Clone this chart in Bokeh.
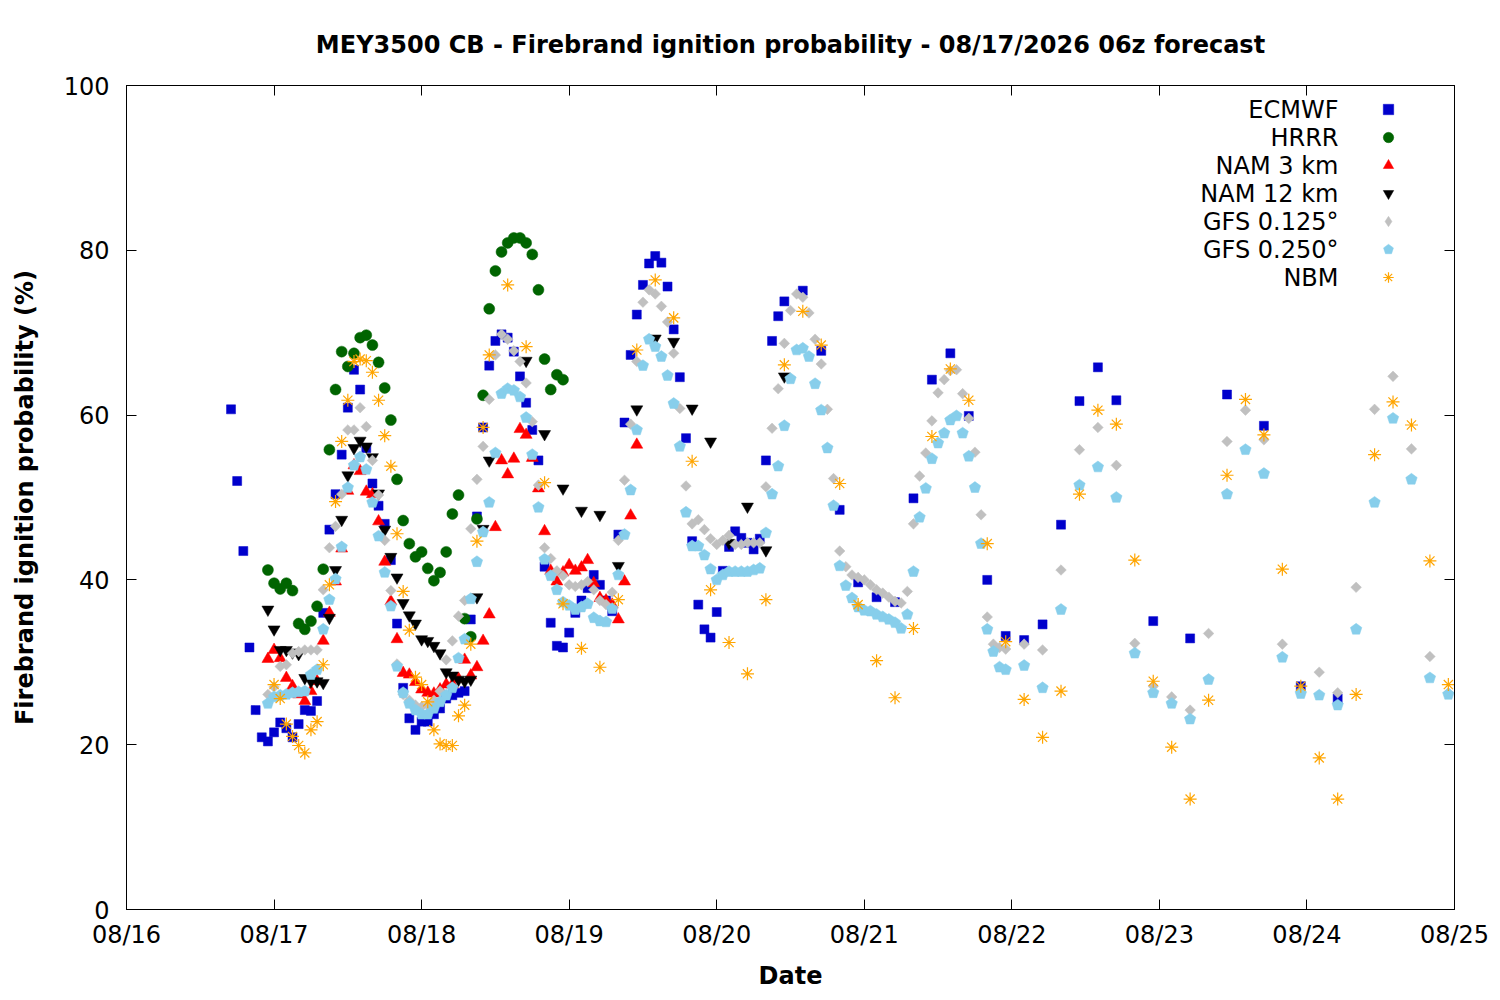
import numpy as np
import pandas as pd
from bokeh.plotting import figure
from bokeh.models import (Range1d, DatetimeTickFormatter, DaysTicker, LinearAxis, DatetimeAxis,
                          FixedTicker, Legend, LegendItem, Label, ColumnDataSource)
from bokeh.core.properties import value
from bokeh.embed import file_html
from bokeh.resources import INLINE

BASE = pd.Timestamp("2026-08-16 00:00")

# ---------------- data (hours after 08/16 00, probability %) ----------------
ecmwf_hours = list(range(17, 108)) + list(range(110, 162, 3)) + list(range(167, 198, 6))
ecmwf_vals = [60.7, 52.0, 43.5, 31.8, 24.2, 20.9, 20.4, 21.5, 22.7, 22.0,
              20.9, 22.5, 24.2, 24.1, 25.3, 36.0, 46.1, 50.4, 55.2, 60.9,
              65.5, 63.1, 56.0, 51.7, 49.0, 46.8, 42.4, 34.7, 26.9, 23.2,
              21.8, 22.8, 22.8, 23.7, 24.4, 25.6, 26.0, 26.3, 26.5, 35.2,
              47.7, 58.5, 66.0, 69.0, 69.8, 69.4, 67.7, 64.7, 61.5, 58.2,
              54.5, 41.6, 34.8, 32.0, 31.8, 33.6, 36.0, 37.5, 39.0, 40.6,
              39.4, 37.5, 36.2, 45.5, 59.1, 67.3, 72.2, 75.8, 78.4, 79.3,
              78.5, 75.6, 70.4, 64.6, 57.2, 44.7, 37.0, 34.0, 33.0, 36.1,
              41.1, 44.0, 45.9, 45.1, 44.5, 43.7, 45.0, 54.5, 69.0, 72.0,
              73.8,
              75.1, 67.8, 48.5, 39.7, 37.9, 37.3, 49.9, 64.3, 67.5, 59.9,
              40.0, 33.2, 32.7, 34.6, 46.7, 61.7, 65.8, 61.8,
              35.0, 32.9, 62.5, 58.7, 27.1, 25.6]

hrrr_hours = list(range(23, 72))
hrrr_vals = [41.2, 39.6, 38.9, 39.6, 38.7, 34.7, 34.0, 35.0, 36.8, 41.3,
             55.8, 63.1, 67.7, 65.9, 67.5, 69.4, 69.7, 68.5, 66.4, 63.3,
             59.4, 52.2, 47.2, 44.4, 42.8, 43.4, 41.4, 39.9, 40.9, 43.4,
             48.0, 50.3, 35.3, 33.1, 47.4, 62.4, 72.9, 77.5, 79.8, 80.9,
             81.5, 81.5, 80.9, 79.5, 75.2, 66.8, 63.1, 64.9, 64.3]

nam3_hours = list(range(23, 84))
nam3_vals = [30.4, 31.5, 30.5, 28.1, 27.1, 26.1, 25.3, 26.5, 27.7, 32.6,
             36.0, 39.8, 43.8, 50.8, 53.9, 53.2, 50.7, 50.4, 47.1, 42.2,
             37.4, 32.8, 28.7, 28.5, 27.6, 26.7, 26.3, 26.2, 26.7, 27.3,
             27.3, 28.0, 30.3, 28.4, 29.4, 32.6, 35.8, 46.4, 54.5, 52.8,
             54.7, 58.3, 57.6, 54.8, 51.1, 45.9, 41.1, 39.8, 40.9, 41.8,
             41.1, 41.5, 42.4, 39.6, 37.8, 37.5, 37.0, 35.2, 39.8, 47.8,
             56.4]

nam12_hours = list(range(23, 60)) + list(range(65, 108, 3))
nam12_vals = [36.4, 34.0, 31.5, 31.5, 31.2, 31.0, 28.1, 27.7, 27.7, 27.5,
              35.4, 41.2, 47.3, 52.7, 56.0, 56.9, 56.2, 54.9, 50.5, 46.1,
              42.8, 40.3, 37.2, 35.7, 34.7, 32.8, 32.6, 32.0, 31.1, 28.8,
              28.4, 27.9, 27.7, 27.9, 37.9, 46.2, 54.5,
              66.6, 57.7, 51.1, 48.4, 47.9, 41.7, 60.7, 69.3, 68.9,
              60.8, 56.8, 44.5, 48.9, 43.6, 64.7]

gfs_hours = list(range(23, 144)) + list(range(146, 216, 3))
gfs125_vals = [26.1, 27.0, 29.5, 29.7, 31.1, 31.3, 31.5, 31.5, 31.5, 38.8,
               43.9, 46.5, 50.4, 58.2, 58.2, 60.9, 58.6, 54.5, 50.3, 44.8,
               38.7, 29.8, 26.1, 25.4, 24.8, 24.6, 24.8, 25.4, 26.5, 30.3,
               32.6, 35.6, 37.5, 46.2, 52.2, 56.2, 61.9, 67.3, 69.8, 69.2,
               67.8, 66.5, 63.9, 59.2, 51.5, 43.9, 42.6, 41.1, 40.5, 39.4,
               39.2, 39.4, 39.8, 38.8, 37.5, 37.0, 38.5, 44.8, 52.1, 58.9,
               66.5, 73.7, 75.2, 74.7, 73.2, 71.3, 67.5, 60.8, 51.4, 46.8,
               47.3, 46.1, 45.0, 44.3, 44.8, 45.4, 44.3, 44.3, 44.5, 44.5,
               44.5, 51.3, 58.4, 63.2, 68.7, 72.7, 74.7, 74.3, 72.4, 69.2,
               66.2, 60.7, 52.3, 43.5, 41.6, 40.6, 40.3, 40.0, 39.4, 38.8,
               38.4, 37.9, 37.4, 37.2, 38.6, 46.8, 52.6, 55.4, 59.3, 62.7,
               64.3, 65.4, 65.5, 62.6, 59.6, 55.5, 47.9, 35.5, 32.2, 31.8,
               31.6,
               32.2, 31.5, 41.2, 55.8, 58.5, 53.9, 32.3, 27.1, 25.8, 24.2,
               33.5, 56.8, 60.6, 57.0, 32.2, 26.5, 28.8, 26.3, 39.1, 60.7,
               64.7, 55.9, 30.7, 26.3]

gfs250_vals = [25.0, 25.8, 26.0, 26.1, 26.3, 26.4, 26.5, 28.5, 29.1, 34.0,
               37.6, 40.1, 44.0, 51.2, 53.9, 54.9, 53.4, 49.4, 45.3, 40.9,
               36.8, 29.5, 26.3, 25.0, 24.2, 23.7, 23.7, 24.4, 25.2, 26.0,
               26.9, 30.5, 32.8, 37.7, 42.2, 45.8, 49.4, 55.4, 62.6, 63.2,
               63.0, 62.2, 59.7, 55.2, 48.8, 42.5, 40.5, 38.8, 37.3, 36.9,
               36.4, 36.7, 37.1, 35.4, 35.0, 34.9, 36.5, 40.6, 45.5, 50.9,
               58.2, 66.0, 69.2, 68.3, 67.1, 64.8, 61.4, 56.2, 48.2, 44.1,
               44.1, 43.0, 41.3, 40.0, 40.6, 41.0, 41.0, 41.0, 41.0, 41.2,
               41.4, 45.7, 50.4, 53.8, 58.7, 64.4, 67.9, 68.1, 67.1, 63.8,
               60.6, 56.0, 49.0, 41.7, 39.3, 37.8, 36.7, 36.3, 36.2, 35.8,
               35.5, 35.2, 34.8, 34.1, 35.8, 41.0, 47.6, 51.1, 54.7, 56.6,
               57.8, 59.4, 59.9, 57.8, 55.0, 51.2, 44.4, 34.0, 31.3, 29.4,
               29.1,
               29.6, 26.9, 36.4, 51.5, 53.7, 50.0, 31.1, 26.3, 25.0, 23.1,
               27.9, 50.4, 55.8, 52.9, 30.6, 26.2, 26.0, 24.8, 34.0, 49.4,
               59.6, 52.2, 28.1, 26.1]

nbm_hours = list(range(24, 60)) + list(range(62, 216, 3))
nbm_vals = [27.3, 25.6, 22.5, 21.0, 19.9, 19.0, 21.8, 22.8, 29.7, 39.4,
            49.5, 56.8, 61.8, 66.5, 66.8, 66.6, 65.2, 61.8, 57.5, 53.8,
            45.6, 38.6, 33.9, 28.2, 27.3, 25.2, 21.8, 20.1, 19.9, 19.9,
            23.5, 24.8, 32.2, 44.7, 58.5, 67.3,
            75.8, 68.3, 51.8, 37.1, 31.7, 29.4, 37.6, 67.9, 76.4, 71.8,
            54.4, 38.8, 32.4, 28.6, 37.6, 66.1, 72.6, 68.5, 51.7, 37.0,
            30.2, 25.7, 34.1, 57.4, 65.6, 61.8, 44.4, 32.5, 25.5, 20.9,
            26.5, 50.4, 60.6, 58.9, 42.4, 27.7, 19.7, 13.4, 25.4, 52.7,
            61.9, 57.6, 41.3, 27.1, 18.4, 13.4, 26.1, 55.2, 61.6, 58.8,
            42.3, 27.3]

series_names = ["ECMWF", "HRRR", "NAM 3 km", "NAM 12 km", "GFS 0.125°", "GFS 0.250°", "NBM"]
y_ticks = [0, 20, 40, 60, 80, 100]
title_text = "MEY3500 CB - Firebrand ignition probability - 08/17/2026 06z forecast"


def src(hours, vals):
    n = min(len(hours), len(vals))
    t = [BASE + pd.Timedelta(hours=h) for h in hours[:n]]
    return ColumnDataSource(dict(t=t, v=vals[:n]))


FONT = "DejaVu Sans"
FS = "24px"

p = figure(width=1492, height=992, x_axis_type="datetime", output_backend="svg",
           toolbar_location=None,
           x_range=Range1d(BASE, BASE + pd.Timedelta(days=9)), y_range=Range1d(0, 100),
           min_border_left=126, min_border_right=38, min_border_top=85, min_border_bottom=82)
p.grid.visible = False
p.outline_line_color = "black"
p.outline_line_width = 1
p.background_fill_color = "white"

p.title.text = title_text
p.title.align = "center"
p.title.text_font = FONT
p.title.text_font_size = FS
p.title.text_font_style = "bold"
p.title.text_color = "black"
p.title.standoff = 54

ticker = DaysTicker(days=list(range(1, 32)))
fmt = DatetimeTickFormatter(days="%m/%d", months="%m/%d", hours="%m/%d", years="%m/%d")

xa = p.xaxis[0]
xa.ticker = ticker
xa.formatter = fmt
ya = p.yaxis[0]
ya.ticker = FixedTicker(ticks=y_ticks)
for ax in (xa, ya):
    ax.major_tick_in = 10
    ax.major_tick_out = 0
    ax.minor_tick_in = 0
    ax.minor_tick_out = 0
    ax.axis_line_color = "black"
    ax.major_tick_line_color = "black"
    ax.major_label_text_font = FONT
    ax.major_label_text_font_size = FS
    ax.major_label_text_color = "black"
    ax.axis_label_text_font = FONT
    ax.axis_label_text_font_size = FS
    ax.axis_label_text_font_style = "bold"
    ax.axis_label_text_color = "black"
xa.axis_label = "Date"
xa.major_label_standoff = 11
xa.axis_label_standoff = 10
ya.axis_label = "Firebrand ignition probability (%)"
ya.major_label_standoff = 17
ya.axis_label_standoff = 22

# mirrored tick marks on top and right (labels not drawn)
top = DatetimeAxis(ticker=ticker, formatter=fmt, major_label_text_font_size="1px",
                   major_label_text_color=None,
                   major_tick_in=10, major_tick_out=0, minor_tick_in=0, minor_tick_out=0,
                   major_label_standoff=0, axis_line_color="black")
right = LinearAxis(ticker=FixedTicker(ticks=y_ticks), major_label_text_font_size="1px",
                   major_label_text_color=None,
                   major_tick_in=10, major_tick_out=0, minor_tick_in=0, minor_tick_out=0,
                   major_label_standoff=0, axis_line_color="black")
p.add_layout(top, "above")
p.add_layout(right, "right")

gfs125_src = src(gfs_hours, gfs125_vals)

r_ec = p.scatter("t", "v", source=src(ecmwf_hours, ecmwf_vals), marker="square", size=9,
                 fill_color="#0000CC", line_color="#0000CC", line_width=0.5)
r_hr = p.scatter("t", "v", source=src(hrrr_hours, hrrr_vals), marker="circle", size=11,
                 fill_color="#006400", line_color="#006400", line_width=0.5)
r_n3 = p.scatter("t", "v", source=src(nam3_hours, nam3_vals), marker="triangle", size=12,
                 fill_color="#FF0000", line_color="#FF0000", line_width=0.5)
r_n12 = p.scatter("t", "v", source=src(nam12_hours, nam12_vals), marker="inverted_triangle", size=12,
                  fill_color="black", line_color="black", line_width=0.5)
r_g1 = p.scatter("t", "v", source=gfs125_src, marker="square", size=7.5,
                 angle=np.pi / 4, fill_color="#C0C0C0", line_color="#C0C0C0", line_width=0.5)
# same points with zero size: only provides the diamond symbol for the legend
r_g1_leg = p.scatter("t", "v", source=gfs125_src, marker="diamond", size=0,
                     fill_color="#C0C0C0", line_color="#C0C0C0", line_width=0.5)
if hasattr(p, "ngon"):
    r_g2 = p.ngon("t", "v", source=src(gfs_hours, gfs250_vals), radius=6, radius_units="screen",
                  n=5, angle=0, fill_color="#87CEEB", line_color="#87CEEB", line_width=0.5)
else:
    r_g2 = p.scatter("t", "v", source=src(gfs_hours, gfs250_vals), marker="hex", size=11,
                     fill_color="#87CEEB", line_color="#87CEEB", line_width=0.5)
r_nb = p.scatter("t", "v", source=src(nbm_hours, nbm_vals), marker="asterisk", size=13,
                 line_color="#FFA500", line_width=1.2)

legend_renderers = [r_ec, r_hr, r_n3, r_n12, r_g1_leg, r_g2, r_nb]

legend = Legend(items=[LegendItem(label=value(" "), renderers=[r]) for r in legend_renderers],
                location=(1249, 619), glyph_width=26, glyph_height=26, label_height=26,
                spacing=2, padding=0, margin=0, label_width=1, label_standoff=0,
                label_text_font_size="1px", label_text_color=None, border_line_color=None,
                background_fill_alpha=0.0)
p.add_layout(legend)

row_y = 800
for name in series_names:
    p.add_layout(Label(x=1212, y=row_y, x_units="screen", y_units="screen", text=name,
                       text_align="right", text_baseline="middle", text_font=FONT,
                       text_font_size=FS, text_color="black"))
    row_y -= 28

open("out.html", "w").write(file_html(p, INLINE))
